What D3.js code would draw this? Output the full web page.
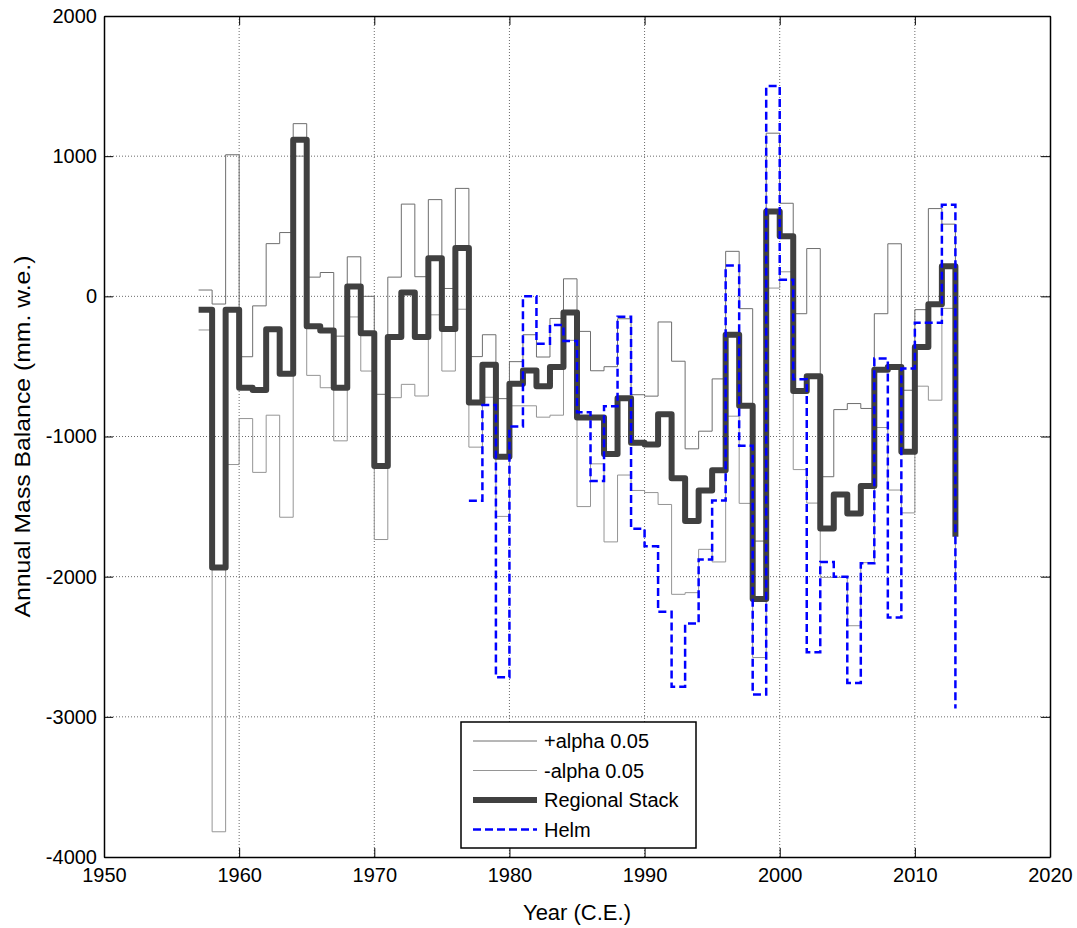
<!DOCTYPE html>
<html>
<head>
<meta charset="utf-8">
<script src="https://cdn.jsdelivr.net/npm/d3@7"></script>
<style>
  body { margin: 0; background: #fff; }
  text { font-family: "Liberation Sans", Arial, sans-serif; fill: #000; }
</style>
</head>
<body>
<div class="svg-area"></div>
<script>
// yearly values (mm w.e.)
let years = d3.range(1957, 2014);
let stack = [-95, -1935, -95, -652, -668, -234, -552, 1118, -214, -243,
    -652, 70, -263, -1210, -290, 27, -290, 272, -233, 344,
    -758, -488, -1145, -623, -529, -641, -504, -115, -865, -865,
    -1125, -727, -1045, -1057, -842, -1297, -1603, -1386, -1240, -274,
    -781, -2160, 606, 428, -676, -570, -1656, -1413, -1549, -1354,
    -523, -504, -1109, -361, -57, 214, -1715];
let plusAlpha = [45, -55, 1010, -431, -68, 376, 455, 1232, 137, 170,
    -284, 282, 0, -699, 137, 658, 140, 690, 56, 770,
    -430, -274, -730, -466, -274, -433, -158, 125, -250, -531,
    -502, -160, -702, -712, -183, -463, -1088, -962, -589, 321,
    -88, -1746, 1164, 664, -124, 341, -1287, -808, -765, -800,
    -124, 375, -670, -95, 626, 515, -1300];
let minusAlpha = [-240, -3820, -1200, -872, -1256, -848, -1576, 1000, -564, -652,
    -1031, -147, -533, -1735, -723, -628, -711, -132, -533, -92,
    -1076, -720, -1570, -781, -781, -862, -848, -314, -1500, -1195,
    -1752, -1275, -1385, -1400, -1485, -2126, -2114, -1805, -1895, -855,
    -1477, -2577, 59, 175, -1236, -1475, -2005, -2005, -2350, -1900,
    -936, -1382, -1545, -641, -741, -86, -2100];
let helmYears = d3.range(1977, 2014);
let helm = [-1458, -776, -2718, -929, 0, -338, -204, -318, -827, -1318,
    -784, -145, -1658, -1783, -2250, -2786, -2335, -1877, -1457, 220,
    -1066, -2840, 1500, 119, -592, -2540, -1895, -2000, -2758, -1905,
    -444, -2292, -515, -188, -188, 653, -2941];
let xTicks = [1950, 1960, 1970, 1980, 1990, 2000, 2010, 2020];
let yTicks = [-4000, -3000, -2000, -1000, 0, 1000, 2000];
let legendLabels = ["+alpha 0.05", "-alpha 0.05", "Regional Stack", "Helm"];

let W = 1077, H = 928;
let pLeft = 104, pTop = 16, pRight = 1050, pBottom = 857;

let svg = d3.select(".svg-area").append("svg")
    .attr("width", W)
    .attr("height", H)

let x = d3.scaleLinear().domain([1950, 2020]).range([pLeft, pRight]);
let y = d3.scaleLinear().domain([-4000, 2000]).range([pBottom, pTop]);

// dotted grid
svg.append("g").selectAll("line").data(xTicks.slice(1, -1)).enter().append("line")
    .attr("x1", d => x(d)).attr("x2", d => x(d))
    .attr("y1", pTop).attr("y2", pBottom)
    .attr("stroke", "#6a6a6a").attr("stroke-width", 1)
    .attr("stroke-dasharray", "1,2")
svg.append("g").selectAll("line").data(yTicks.slice(1, -1)).enter().append("line")
    .attr("x1", pLeft).attr("x2", pRight)
    .attr("y1", d => y(d)).attr("y2", d => y(d))
    .attr("stroke", "#6a6a6a").attr("stroke-width", 1)
    .attr("stroke-dasharray", "1,2")

function stairs(xs, vs) {
    return d3.line()
        .x((d, i) => x(xs[i]))
        .y(d => y(d))
        .curve(d3.curveStepAfter)(vs);
}

svg.append("path").attr("d", stairs(years, minusAlpha))
    .attr("fill", "none").attr("stroke", "#959595").attr("stroke-width", 1)
svg.append("path").attr("d", stairs(years, plusAlpha))
    .attr("fill", "none").attr("stroke", "#6e6e6e").attr("stroke-width", 1)
svg.append("path").attr("d", stairs(years, stack))
    .attr("fill", "none").attr("stroke", "#404040").attr("stroke-width", 6)
    .attr("stroke-linejoin", "round")
svg.append("path").attr("d", stairs(helmYears, helm))
    .attr("fill", "none").attr("stroke", "#0000ff").attr("stroke-width", 2.5)
    .attr("stroke-dasharray", "8,4")

// axes box with inward ticks on all sides
let fmt = d => String(d);
svg.append("g")
    .attr("transform", "translate(0," + pBottom + ")")
    .call(d3.axisBottom(x).tickValues(xTicks).tickFormat(fmt).tickSizeInner(-9).tickSizeOuter(0).tickPadding(11))
svg.append("g")
    .attr("transform", "translate(0," + pTop + ")")
    .call(d3.axisTop(x).tickValues(xTicks).tickFormat("").tickSizeInner(-9).tickSizeOuter(0))
svg.append("g")
    .attr("transform", "translate(" + pLeft + ",0)")
    .call(d3.axisLeft(y).tickValues(yTicks).tickFormat(fmt).tickSizeInner(-9).tickSizeOuter(0).tickPadding(7))
svg.append("g")
    .attr("transform", "translate(" + pRight + ",0)")
    .call(d3.axisRight(y).tickValues(yTicks).tickFormat("").tickSizeInner(-9).tickSizeOuter(0))

svg.selectAll(".domain").attr("stroke", "#000").attr("stroke-width", 1.5)
svg.selectAll(".tick line").attr("stroke", "#000")
svg.selectAll(".tick text").attr("font-size", "20px")
    .attr("font-family", "'Liberation Sans', Arial, sans-serif").attr("fill", "#000")

svg.append("text")
    .attr("x", (pLeft + pRight) / 2).attr("y", 920)
    .attr("text-anchor", "middle").attr("font-size", "22px")
    .text("Year (C.E.)")
svg.append("text")
    .attr("transform", "translate(30," + (pTop + pBottom) / 2 + ") rotate(-90)")
    .attr("text-anchor", "middle").attr("font-size", "22px")
    .attr("textLength", 362).attr("lengthAdjust", "spacingAndGlyphs")
    .text("Annual Mass Balance (mm. w.e.)")

// legend
let lg = svg.append("g").attr("transform", "translate(461,722)")
lg.append("rect")
    .attr("width", 235).attr("height", 126)
    .attr("fill", "#fff").attr("stroke", "#000").attr("stroke-width", 1.5)
let legendStyle = [
    {stroke: "#6e6e6e", w: 1, dash: null},
    {stroke: "#959595", w: 1, dash: null},
    {stroke: "#404040", w: 6, dash: null},
    {stroke: "#0000ff", w: 2.5, dash: "8,4"}
];
legendLabels.forEach(function (lab, i) {
    let yy = 19 + i * 29.5;
    lg.append("line")
        .attr("x1", 12).attr("x2", 76).attr("y1", yy).attr("y2", yy)
        .attr("stroke", legendStyle[i].stroke).attr("stroke-width", legendStyle[i].w)
        .attr("stroke-dasharray", legendStyle[i].dash)
    lg.append("text")
        .attr("x", 83).attr("y", yy).attr("dy", "0.36em")
        .attr("font-size", "20px")
        .text(lab)
});
</script>
</body>
</html>
